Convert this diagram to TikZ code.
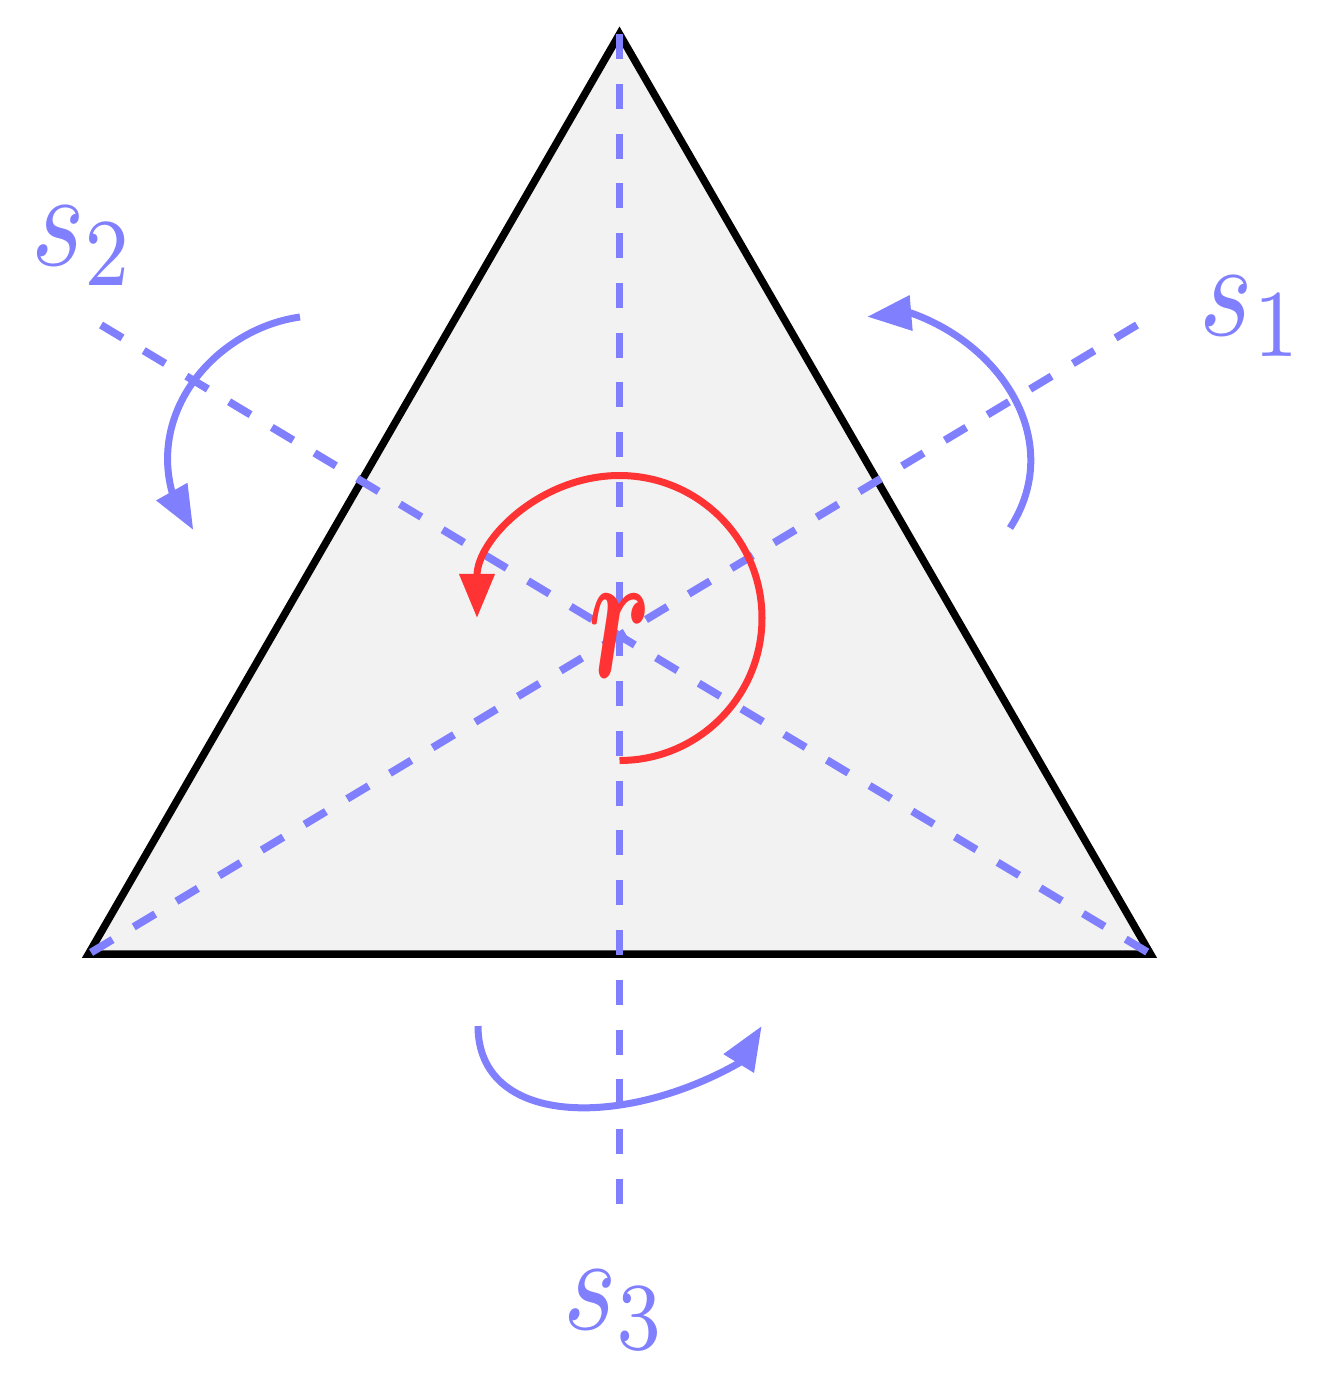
\documentclass[tikz,border=0pt]{standalone}
\usepackage{amsmath}
\usepackage{graphicx}
\usetikzlibrary{arrows.meta}
\definecolor{axisblue}{RGB}{128,128,255}
\definecolor{rotred}{RGB}{255,51,51}
\definecolor{trifill}{RGB}{242,242,242}
\begin{document}
\begin{tikzpicture}[x=0.01cm,y=-0.01cm,
  axisline/.style={draw=axisblue, line width=0.077cm, dash pattern=on 0.25cm off 0.2475cm},
  fliparc/.style={draw=axisblue, line width=0.07cm, line join=round, -{Triangle[length=0.44cm,width=0.34cm]}},
  rotarc/.style={draw=rotred, line width=0.07cm, -{Triangle[length=0.44cm,width=0.34cm]}},
  axislabel/.style={text=axisblue, inner sep=0pt}]
\useasboundingbox (0,0) rectangle (1319,1378);
% triangle
\coordinate (T) at (619.5,34);
\coordinate (L) at (88.5,954);
\coordinate (R) at (1150.5,954);
\filldraw[fill=trifill, draw=black, line width=0.075cm] (T) -- (L) -- (R) -- cycle;
% axes
\coordinate (e1) at (1137,325);
\coordinate (e2) at (101,325);
\coordinate (e3) at (619.5,1203.5);
\draw[axisline] (T) -- (e3);
\draw[axisline] (e1) -- (L);
\draw[axisline] (e2) -- (R);
% flip arrows
\coordinate (f1s) at (1010,528);
\coordinate (f1b) at (911,313);
\coordinate (f1t) at (867.3,316.7);
\draw[fliparc] (f1s) .. controls (1064.5,444) and (1005,346.4) .. (f1b) -- (f1t);
\coordinate (f2s) at (300,317);
\coordinate (f2b) at (172,492);
\coordinate (f2t) at (193.3,530);
\draw[fliparc] (f2s) .. controls (220.8,328.1) and (148.7,405.1) .. (f2b) -- (f2t);
\coordinate (f3s) at (478,1026);
\coordinate (f3b) at (739,1063);
\coordinate (f3t) at (761.7,1026);
\draw[fliparc] (f3s) .. controls (478,1126) and (621.6,1129.4) .. (f3b) -- (f3t);
% rotation
\coordinate (rs) at (619.5,760.5);
\draw[rotarc] (rs) arc[start angle=90, end angle=-180, radius=142.5];
% labels
\node[axislabel] (s1) at (1252,316.5) {\scalebox{3.24}[3.9]{$s_1$}};
\node[axislabel] (s2) at (83.5,246) {\scalebox{3.24}[3.9]{$s_2$}};
\node[axislabel] (s3) at (615.5,1310) {\scalebox{3.24}[3.9]{$s_3$}};
\node[text=rotred, inner sep=0pt] (r) at (620.5,636) {\scalebox{3.2}[5.3]{$\boldsymbol{r}$}};
\end{tikzpicture}
\end{document}
